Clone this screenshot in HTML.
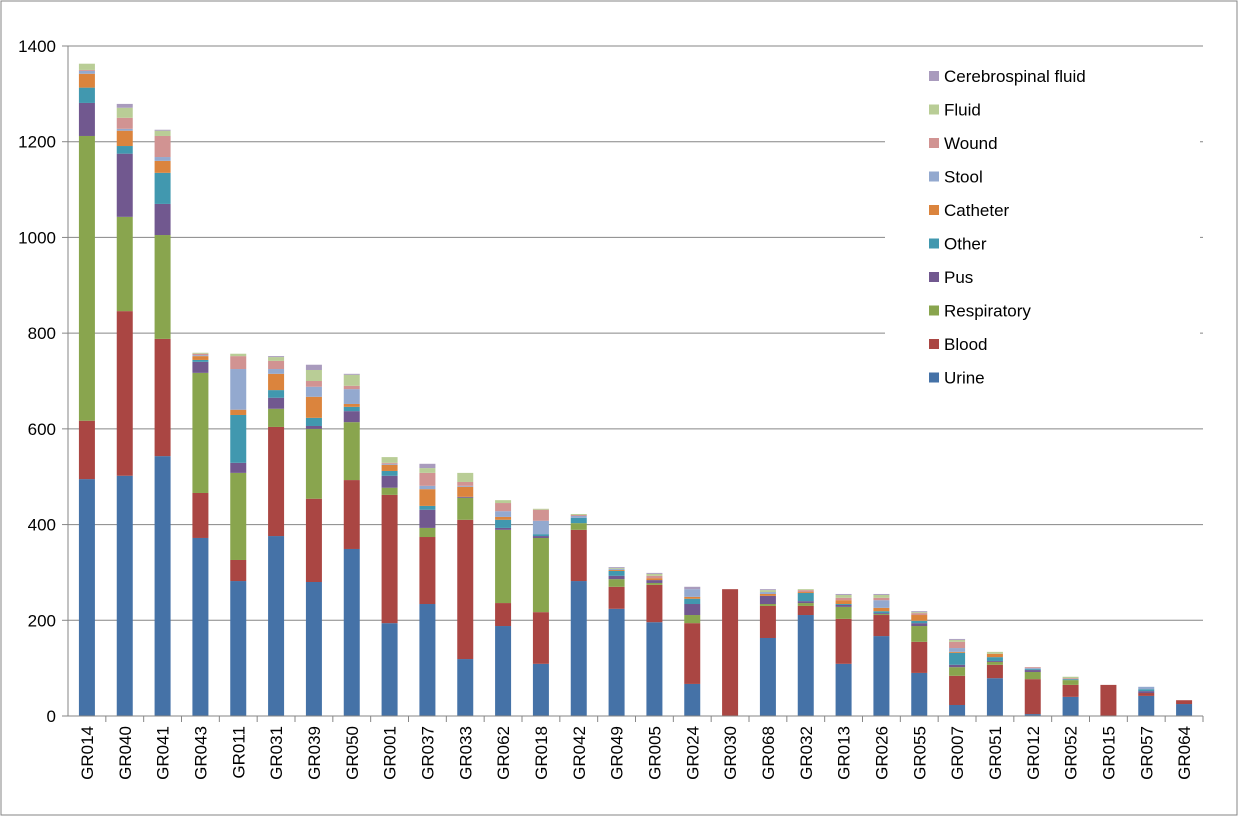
<!DOCTYPE html>
<html><head><meta charset="utf-8"><style>
body{margin:0;background:#fff;}
svg{display:block;font-family:"Liberation Sans",sans-serif;}
</style></head><body>
<svg id="chart" width="1239" height="817">
<rect x="1" y="1" width="1236" height="814" fill="#fff" stroke="#868686"/>
<g id="grid"></g><g id="bars"></g><g id="axes"></g><g id="legend"></g>
</svg>
<script>
const categories=["GR014","GR040","GR041","GR043","GR011","GR031","GR039","GR050","GR001","GR037","GR033","GR062","GR018","GR042","GR049","GR005","GR024","GR030","GR068","GR032","GR013","GR026","GR055","GR007","GR051","GR012","GR052","GR015","GR057","GR064"];
const seriesNames=["Urine","Blood","Respiratory","Pus","Other","Catheter","Stool","Wound","Fluid","Cerebrospinal fluid"];
const urine=[495,502,543,372,282,376,280,349,194,234,119,188,109,282,224,196,67,0,163,211,109,167,90,23,79,4,40,0,42,25];
const blood=[122,344,245,94,44,228,174,144,268,140,291,48,108,107,46,78,127,265,67,19,94,44,65,61,28,73,25,65,6,8];
const respiratory=[595,197,217,251,182,38,146,121,15,19,46,153,155,14,16,4,17,0,4,6,25,2,33,18,6,15,10,0,0,0];
const pus=[69,132,65,23,21,23,6,23,25,38,2,4,4,0,7,6,23,0,17,4,4,2,6,5,2,4,0,0,4,0];
const other=[32,16,65,4,100,16,17,9,10,8,0,17,4,11,10,0,11,0,0,17,2,4,5,25,8,2,2,0,4,0];
const catheter=[29,32,25,8,11,34,44,6,13,35,21,6,0,0,2,4,4,0,4,2,8,7,12,2,7,0,0,0,0,0];
const stool=[6,4,8,2,85,10,21,31,2,7,2,12,28,4,2,0,16,0,4,0,0,16,0,8,0,2,0,0,5,0];
const wound=[2,23,44,3,27,17,12,7,2,27,8,17,23,2,0,5,0,0,0,4,5,5,4,13,0,2,2,0,0,0];
const fluid=[13,21,11,2,5,8,23,23,12,10,19,6,2,2,2,4,0,0,4,2,6,6,2,4,4,0,3,0,0,0];
const csf=[0,8,2,0,0,2,11,2,0,9,0,0,0,0,2,2,5,0,2,0,2,2,2,2,0,0,0,0,0,0];
const yTicks=[0,200,400,600,800,1000,1200,1400];
const series=[urine,blood,respiratory,pus,other,catheter,stool,wound,fluid,csf];
const colors=["#4572A7","#AA4643","#89A54E","#71588F","#4198AF","#DB843D","#93A9CF","#D19392","#B9CD96","#A99BBD"];
const X0=68,X1=1203,Y0=716,Y1=46,YMAX=1400;
const bw=(X1-X0)/categories.length;
const y=v=>Y0-(v/YMAX)*(Y0-Y1);
const xc=i=>X0+bw*(i+0.5);
const NS="http://www.w3.org/2000/svg";
function mk(tag,attrs,parent){const e=document.createElementNS(NS,tag);for(const k in attrs)e.setAttribute(k,attrs[k]);parent.appendChild(e);return e;}
const grid=document.getElementById('grid'),bars=document.getElementById('bars'),axes=document.getElementById('axes'),legend=document.getElementById('legend');
yTicks.forEach(t=>{
  if(t>0){const l=mk('line',{x1:X0,x2:X1,y1:y(t),y2:y(t),stroke:'#868686','stroke-width':1},grid);
  
  }
  const tk=mk('line',{x1:X0-6,x2:X0,y1:y(t),y2:y(t),stroke:'#868686'},axes);
  
  
  const tx=mk('text',{x:X0-12,y:y(t)+6,'text-anchor':'end','font-size':17,fill:'#000'},axes);
  tx.textContent=t;
  
  
});
categories.forEach((c,i)=>{
  let cum=0;
  series.forEach((s,k)=>{
    const v=s[i];if(v<=0)return;
    const r=mk('rect',{x:xc(i)-8,y:y(cum+v),width:16,height:y(cum)-y(cum+v),fill:colors[k]},bars);
    
    
    cum+=v;
  });
  const tk=mk('line',{x1:X0+bw*(i+1),x2:X0+bw*(i+1),y1:Y0,y2:Y0+6,stroke:'#868686'},axes);
  
  
  const tx=mk('text',{x:0,y:0,'text-anchor':'end','font-size':17,fill:'#000',transform:`translate(${xc(i)+6},${Y0+10}) rotate(-90)`},axes);
  tx.textContent=c;
  
  
});
const ya=mk('line',{x1:X0,x2:X0,y1:Y1,y2:Y0,stroke:'#868686'},axes);


const xa=mk('line',{x1:X0,x2:X1,y1:Y0,y2:Y0,stroke:'#868686'},axes);


const lb=mk('rect',{x:885,y:58,width:315,height:340,fill:'#fff'},legend);


for(let k=series.length-1;k>=0;k--){
  const row=series.length-1-k;
  const ly=76+row*33.5;
  const g=mk('g',{},legend);
  
  
  mk('rect',{x:929,y:ly-5,width:10,height:10,fill:colors[k]},g);
  const t=mk('text',{x:944,y:ly+6,'font-size':17,fill:'#000'},g);
  t.textContent=seriesNames[k];
}
</script>
</body></html>
